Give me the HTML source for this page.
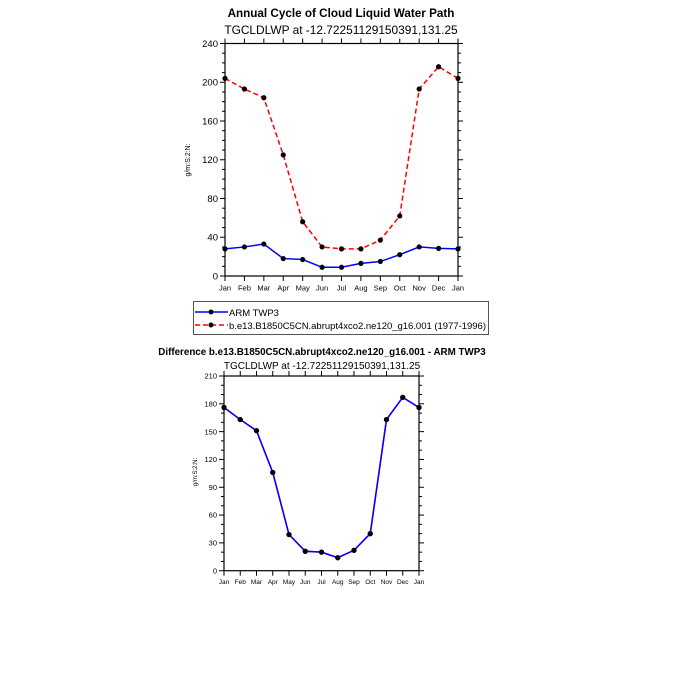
<!DOCTYPE html>
<html><head><meta charset="utf-8"><style>
body{margin:0;background:#fff}
svg{display:block;font-family:"Liberation Sans",sans-serif}
</style></head><body>
<svg id="c" width="675" height="675" viewBox="0 0 675 675">
<text x="341" y="17" text-anchor="middle" font-size="11.7" font-weight="bold">Annual Cycle of Cloud Liquid Water Path</text>
<text x="341" y="34" text-anchor="middle" font-size="11.9">TGCLDLWP at -12.72251129150391,131.25</text>
<text x="0" y="0" transform="translate(190,160) rotate(-90)" text-anchor="middle" font-size="7">g/m:S:2:N:</text>
<g id="top"></g>
<g>
<rect x="193.5" y="301.5" width="295" height="33" fill="none" stroke="#555" stroke-width="1"/>
<line x1="195" y1="312" x2="228" y2="312" stroke="#00f" stroke-width="1.5"/>
<circle cx="211" cy="312" r="2.5" fill="#000"/>
<text x="229" y="316" font-size="9.5">ARM TWP3</text>
<line x1="195" y1="325" x2="228" y2="325" stroke="#f00" stroke-width="1.5" stroke-dasharray="5,3"/>
<circle cx="211" cy="325" r="2.5" fill="#000"/>
<text x="229" y="329" font-size="9.5" textLength="257">b.e13.B1850C5CN.abrupt4xco2.ne120_g16.001 (1977-1996)</text>
</g>
<text x="322" y="355" text-anchor="middle" font-size="9.8" font-weight="bold">Difference b.e13.B1850C5CN.abrupt4xco2.ne120_g16.001 - ARM TWP3</text>
<text x="322" y="369" text-anchor="middle" font-size="10">TGCLDLWP at -12.72251129150391,131.25</text>
<text x="0" y="0" transform="translate(197,472) rotate(-90)" text-anchor="middle" font-size="6">g/m:S:2:N:</text>
<g id="bot"></g>
</svg>
<script>
const months=["Jan","Feb","Mar","Apr","May","Jun","Jul","Aug","Sep","Oct","Nov","Dec","Jan"];
const modelValues=[204,193,184,125,56,30,28,28,37,62,193,216,204];
const armValues=[28,30,33,18,17,9,9,13,15,22,30,28.5,28];
const diffValues=[176,163,151,106,39,21,20,14,22,40,163,187,176];
const topTicks=[0,40,80,120,160,200,240];
const botTicks=[0,30,60,90,120,150,180,210];
const NS="http://www.w3.org/2000/svg";
function mk(p,t,a){const e=document.createElementNS(NS,t);for(const k in a)e.setAttribute(k,a[k]);p.appendChild(e);return e;}
function plot(g,L,R,T,B,ymax,ticks,minorStep,series,fs,xfs){
  const xs=i=>L+(R-L)*i/(months.length-1);
  const ys=v=>B-(B-T)*v/ymax;
  const f=mk(g,'rect',{x:L,y:T,width:R-L,height:B-T,fill:'none',stroke:'#000','stroke-width':1.2});
  
  
  for(let v=0;v<=ymax+0.01;v+=minorStep){
    const major=ticks.includes(v);const len=major?5:3;
    mk(g,'line',{x1:L-len,x2:L,y1:ys(v),y2:ys(v),stroke:'#000','stroke-width':1});
    mk(g,'line',{x1:R,x2:R+len,y1:ys(v),y2:ys(v),stroke:'#000','stroke-width':1});
  }
  ticks.forEach(v=>{const t=mk(g,'text',{x:L-7,y:ys(v)+fs*0.35,'text-anchor':'end','font-size':fs});t.textContent=v;
    
    });
  months.forEach((m,i)=>{
    mk(g,'line',{x1:xs(i),x2:xs(i),y1:B,y2:B+5,stroke:'#000','stroke-width':1});
    mk(g,'line',{x1:xs(i),x2:xs(i),y1:T-5,y2:T,stroke:'#000','stroke-width':1});
    const t=mk(g,'text',{x:xs(i),y:B+xfs+7,'text-anchor':'middle','font-size':xfs});t.textContent=m;
    
    
  });
  series.forEach(s=>{
    const pl=mk(g,'polyline',{points:s.vals.map((v,i)=>xs(i)+','+ys(v)).join(' '),fill:'none',stroke:s.color,'stroke-width':1.5,'stroke-dasharray':s.dash||'none'});
    
    
    s.vals.forEach((v,i)=>{const c=mk(g,'circle',{cx:xs(i),cy:ys(v),r:2.6,fill:'#000'});
      
      });
  });
}
plot(document.getElementById('top'),225,458,43.5,276,240,topTicks,10,
  [{vals:armValues,color:'#00f',name:'arm'},{vals:modelValues,color:'#f00',dash:'5,3',name:'model'}],9.5,7.5);
plot(document.getElementById('bot'),224,419,376,570.7,210,botTicks,10,
  [{vals:diffValues,color:'#c0f',name:'diff-under'},{vals:diffValues,color:'#00f',name:'diff'}],7.5,6.5);
</script>
</body></html>
